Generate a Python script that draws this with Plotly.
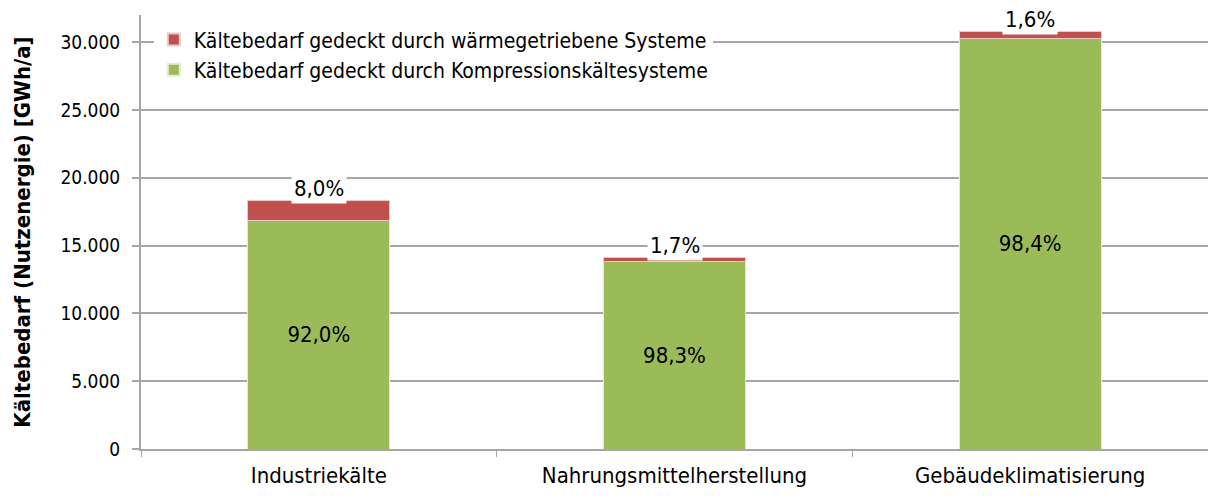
import plotly.graph_objects as go

categories = ["Industriekälte", "Nahrungsmittelherstellung", "Gebäudeklimatisierung"]
kompression = [16836, 13860, 30258]
waerme = [1464, 240, 492]
kompression_pct = ["92,0%", "98,3%", "98,4%"]
waerme_pct = ["8,0%", "1,7%", "1,6%"]
totals = [k + w for k, w in zip(kompression, waerme)]

FONT = "DejaVu Sans Condensed, Liberation Sans Narrow, Roboto Condensed, sans-serif"
RED = "#C0504D"
GREEN = "#9BBB59"
GRID = "#A6A6A6"

fig = go.Figure()
fig.add_trace(go.Bar(
    x=categories, y=kompression, name="Kältebedarf gedeckt durch Kompressionskältesysteme",
    marker=dict(color=GREEN, line=dict(color="#E4ECD0", width=1)),
    text=kompression_pct, textposition="inside", insidetextanchor="middle",
    textfont=dict(color="black", size=22, family=FONT), legendrank=2,
))
fig.add_trace(go.Bar(
    x=categories, y=waerme, name="Kältebedarf gedeckt durch wärmegetriebene Systeme",
    marker=dict(color=RED, line=dict(color="#ECC9C8", width=1)),
    legendrank=1,
))
for c, t, p in zip(categories, totals, waerme_pct):
    fig.add_annotation(x=c, y=t, text=p, showarrow=False, yanchor="bottom", yshift=-3,
                       font=dict(color="black", size=22, family=FONT), bgcolor="white",
                       borderpad=2)

fig.update_layout(
    barmode="stack", bargap=0.6,
    width=1208, height=501,
    margin=dict(l=141, r=0, t=15, b=52, autoexpand=False),
    paper_bgcolor="white", plot_bgcolor="white",
    separators=",.",
    font=dict(family=FONT, size=20, color="black"),
    showlegend=True,
    legend=dict(x=0.012, y=0.99, xanchor="left", yanchor="top", bgcolor="white",
                font=dict(size=21, family=FONT), traceorder="normal",
                itemsizing="constant"),
    xaxis=dict(showline=True, linecolor=GRID, linewidth=2, ticks="outside",
               tickson="boundaries", ticklen=6, tickcolor=GRID, tickwidth=1,
               ticklabelstandoff=6,
               tickfont=dict(size=22, family=FONT), automargin=False),
    yaxis=dict(range=[0, 32000], dtick=5000, tickformat=",d", showgrid=True,
               gridcolor=GRID, gridwidth=2, showline=True, linecolor=GRID, linewidth=2,
               ticks="outside", ticklen=7, tickcolor=GRID, tickwidth=2, zeroline=False,
               ticklabelstandoff=8, automargin=False,
               tickfont=dict(size=19, family=FONT),
               title=dict(text="<b>Kältebedarf (Nutzenergie) [GWh/a]</b>",
                          font=dict(size=22, family=FONT), standoff=24)),
)

fig.write_html("out.html", config={"displayModeBar": False},
               post_script="document.body.style.margin='0';document.body.style.overflow='hidden';")
